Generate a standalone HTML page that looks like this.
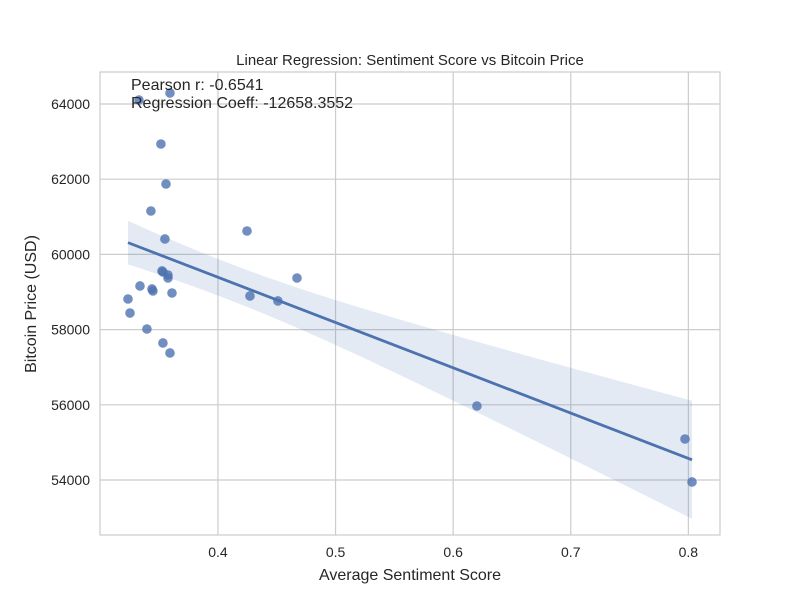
<!DOCTYPE html>
<html><head><meta charset="utf-8"><style>
body{margin:0;background:#fff;}
text{font-family:"Liberation Sans","DejaVu Sans",sans-serif;fill:#262626;}
</style></head><body>
<svg id="chart" width="800" height="600"></svg>
<script>
const xs=[0.3328,0.3592,0.3515,0.3558,0.3430,0.3549,0.4247,0.3524,0.3532,0.3575,0.3575,0.3337,0.3439,0.3447,0.3609,0.3235,0.3252,0.3396,0.3532,0.3592,0.4272,0.4510,0.4672,0.6202,0.7971,0.8031];
const ys=[64106,64293,62936,61872,61154,60410,60622,59559,59532,59452,59372,59160,59080,59027,58973,58814,58441,58016,57644,57378,58894,58761,59372,55968,55090,53947];
const xTicks=[0.4,0.5,0.6,0.7,0.8];
const yTicks=[54000,56000,58000,60000,62000,64000];
const L=100,R=720,T=72,B=535;
const X0=0.2997,X1=0.8269,Y0=52537,Y1=64851;
const sx=v=>L+(v-X0)/(X1-X0)*(R-L);
const sy=v=>B-(v-Y0)/(Y1-Y0)*(B-T);
const NS='http://www.w3.org/2000/svg';
const svg=document.getElementById('chart');
function mk(tag,attrs,txt){const e=document.createElementNS(NS,tag);for(const k in attrs)e.setAttribute(k,attrs[k]);if(txt!==undefined)e.textContent=txt;svg.appendChild(e);return e;}
const defs=document.createElementNS(NS,'defs');defs.innerHTML='<clipPath id="pc"><rect x="100" y="72" width="620" height="463"/></clipPath>';svg.appendChild(defs);
let e=mk('rect',{x:L,y:T,width:R-L,height:B-T,fill:'#fff',stroke:'#cccccc','stroke-width':1.2});


xTicks.forEach(t=>{let g=mk('line',{x1:sx(t),x2:sx(t),y1:T,y2:B,stroke:'#cccccc','stroke-width':1.2});


let l=mk('text',{x:sx(t),y:B+22,'text-anchor':'middle','font-size':14},t.toFixed(1));

});
yTicks.forEach(t=>{let g=mk('line',{x1:L,x2:R,y1:sy(t),y2:sy(t),stroke:'#cccccc','stroke-width':1.2});


let l=mk('text',{x:L-10,y:sy(t)+5,'text-anchor':'end','font-size':14},String(t));

});
// regression
const n=xs.length,mx=xs.reduce((a,b)=>a+b)/n,my=ys.reduce((a,b)=>a+b)/n;
let sxx=0,sxy=0;for(let i=0;i<n;i++){sxx+=(xs[i]-mx)**2;sxy+=(xs[i]-mx)*(ys[i]-my);}
const b1=sxy/sxx,b0=my-b1*mx;let sse=0;for(let i=0;i<n;i++)sse+=(ys[i]-b0-b1*xs[i])**2;
const s=Math.sqrt(sse/(n-2)),tv=2.064*0.66;
const xmin=Math.min(...xs),xmax=Math.max(...xs);
let up=[],lo=[];for(let k=0;k<=60;k++){const x=xmin+(xmax-xmin)*k/60;const yh=b0+b1*x;const h=tv*s*Math.sqrt(1/n+(x-mx)**2/sxx);up.push(sx(x)+','+sy(yh+h));lo.unshift(sx(x)+','+sy(yh-h));}
e=mk('polygon',{points:up.concat(lo).join(' '),fill:'#4c72b0','fill-opacity':0.15,'clip-path':'url(#pc)'});


for(let i=0;i<n;i++){let c=mk('circle',{cx:sx(xs[i]),cy:sy(ys[i]),r:4.8,fill:'#4c72b0','fill-opacity':0.8});

}
e=mk('line',{x1:sx(xmin),y1:sy(b0+b1*xmin),x2:sx(xmax),y2:sy(b0+b1*xmax),stroke:'#4c72b0','stroke-width':2.8});


e=mk('text',{x:131,y:90,'font-size':16},'Pearson r: -0.6541');


e=mk('text',{x:131,y:108,'font-size':16},'Regression Coeff: -12658.3552');


e=mk('text',{x:410,y:65,'text-anchor':'middle','font-size':15},'Linear Regression: Sentiment Score vs Bitcoin Price');


e=mk('text',{x:410,y:580,'text-anchor':'middle','font-size':16},'Average Sentiment Score');


e=mk('text',{x:36,y:304,'text-anchor':'middle','font-size':16,transform:'rotate(-90 36 304)'},'Bitcoin Price (USD)');


</script></body></html>
